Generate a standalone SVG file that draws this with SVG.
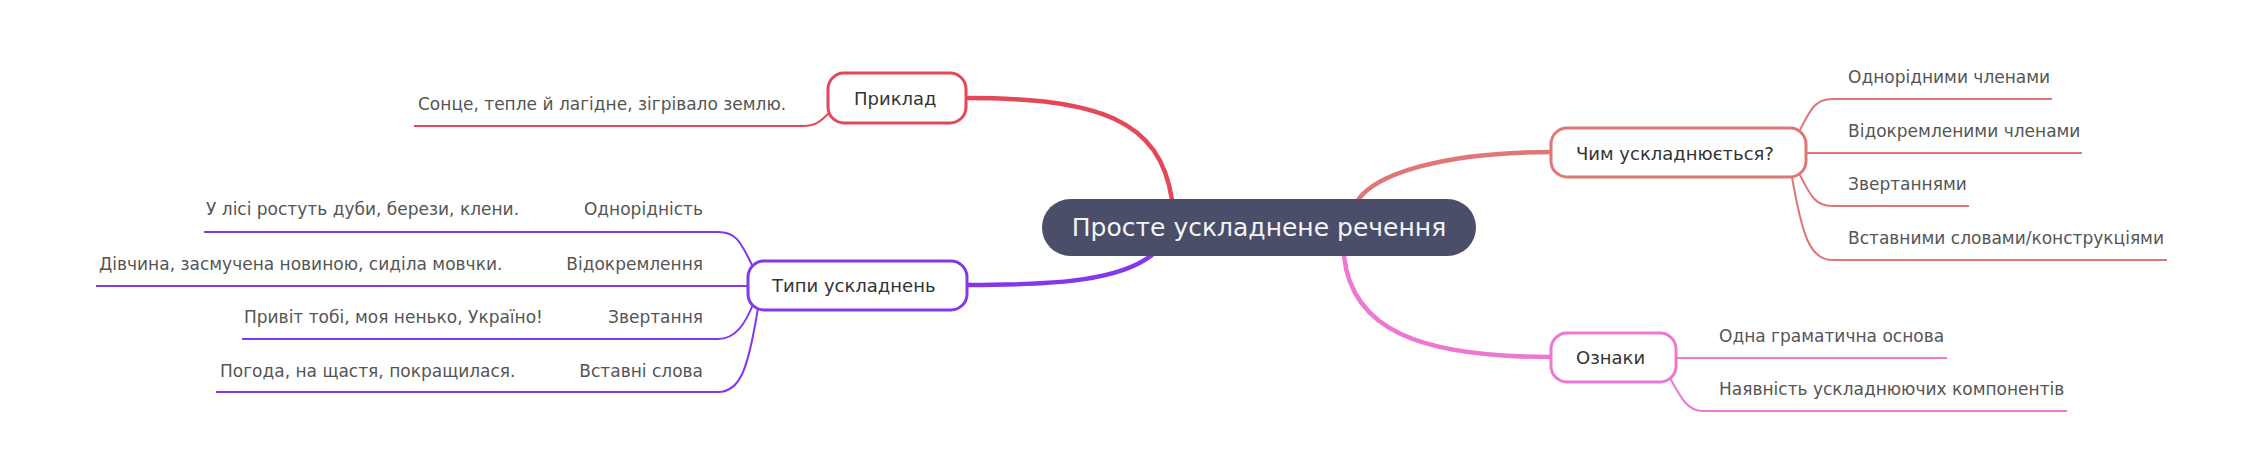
<svg xmlns="http://www.w3.org/2000/svg" width="2262" height="456" viewBox="0 0 2262 456">
<style>
text{font-family:"DejaVu Sans","Noto Sans",sans-serif}
.root{fill:#f4f4f8;font-size:25px}
.nt{fill:#333;font-size:18px}
.lt{fill:#555;font-size:17px}
.r{stroke:#e4475a}
.p{stroke:#8338ec}
.s{stroke:#e07676}
.k{stroke:#ec78d1}
.main{fill:none;stroke-width:4.5;stroke-linecap:round}
.sub{fill:none;stroke-width:2}
.box{fill:#fff;stroke-width:3}
</style>
<rect width="2262" height="456" fill="#fff"/>
<g id="connectors">
<path class="main r" d="M1172,200 C1160,120 1100,98 966,98"/>
<path class="main p" d="M1152,255 C1120,280 1060,285 967,285"/>
<path class="main s" d="M1358,200 C1375,175 1440,152 1551,152"/>
<path class="main k" d="M1344,256 C1352,330 1420,357 1551,357"/>
<path class="sub r" d="M829,113 C820,122 815,126 803,126"/>
<path class="sub p" d="M752,265 C740,240 735,232 718,232"/>
<path class="sub p" d="M747,286 L718,286"/>
<path class="sub p" d="M754,302 C745,325 735,339 718,339"/>
<path class="sub p" d="M758,308 C748,370 740,392 718,392"/>
<path class="sub s" d="M1799,132 C1810,110 1815,99 1832,99"/>
<path class="sub s" d="M1806,153 L1832,153"/>
<path class="sub s" d="M1799,173 C1810,195 1815,206 1832,206"/>
<path class="sub s" d="M1792,177 C1802,235 1810,260 1832,260"/>
<path class="sub k" d="M1676,358 L1703,358"/>
<path class="sub k" d="M1670,378 C1682,400 1688,411 1703,411"/>
</g>
<g id="root">
<rect x="1042" y="199" width="434" height="57" rx="28.5" fill="#4a4e69"/>
<text class="root" x="1259" y="236" text-anchor="middle">Просте ускладнене речення</text>
</g>
<g id="pryklad">
<rect class="box r" x="828" y="73" width="138" height="50" rx="16"/>
<text class="nt" x="854" y="105">Приклад</text>
</g>
<g id="pryklad-1">
<path class="sub r" d="M803,126 L414,126"/>
<text class="lt" x="418" y="110">Сонце, тепле й лагідне, зігрівало землю.</text>
</g>
<g id="typy">
<rect class="box p" x="748" y="261" width="219" height="49" rx="16"/>
<text class="nt" x="772" y="292">Типи ускладнень</text>
</g>
<g id="typy-1">
<path class="sub p" d="M718,232 L560,232"/>
<text class="lt" x="703" y="215" text-anchor="end">Однорідність</text>
</g>
<g id="typy-1-1">
<path class="sub p" d="M560,232 L204,232"/>
<text class="lt" x="206" y="215">У лісі ростуть дуби, берези, клени.</text>
</g>
<g id="typy-2">
<path class="sub p" d="M718,286 L550,286"/>
<text class="lt" x="703" y="270" text-anchor="end">Відокремлення</text>
</g>
<g id="typy-2-1">
<path class="sub p" d="M550,286 L96,286"/>
<text class="lt" x="99" y="270">Дівчина, засмучена новиною, сиділа мовчки.</text>
</g>
<g id="typy-3">
<path class="sub p" d="M718,339 L580,339"/>
<text class="lt" x="703" y="323" text-anchor="end">Звертання</text>
</g>
<g id="typy-3-1">
<path class="sub p" d="M580,339 L242,339"/>
<text class="lt" x="244" y="323">Привіт тобі, моя ненько, Україно!</text>
</g>
<g id="typy-4">
<path class="sub p" d="M718,392 L560,392"/>
<text class="lt" x="703" y="377" text-anchor="end">Вставні слова</text>
</g>
<g id="typy-4-1">
<path class="sub p" d="M560,392 L216,392"/>
<text class="lt" x="220" y="377">Погода, на щастя, покращилася.</text>
</g>
<g id="chym">
<rect class="box s" x="1551" y="128" width="255" height="49" rx="16"/>
<text class="nt" x="1576" y="160">Чим ускладнюється?</text>
</g>
<g id="chym-1">
<path class="sub s" d="M1832,99 L2052,99"/>
<text class="lt" x="1848" y="83">Однорідними членами</text>
</g>
<g id="chym-2">
<path class="sub s" d="M1832,153 L2082,153"/>
<text class="lt" x="1848" y="137">Відокремленими членами</text>
</g>
<g id="chym-3">
<path class="sub s" d="M1832,206 L1969,206"/>
<text class="lt" x="1848" y="190">Звертаннями</text>
</g>
<g id="chym-4">
<path class="sub s" d="M1832,260 L2167,260"/>
<text class="lt" x="1848" y="244">Вставними словами/конструкціями</text>
</g>
<g id="oznaky">
<rect class="box k" x="1551" y="333" width="125" height="49" rx="16"/>
<text class="nt" x="1576" y="364">Ознаки</text>
</g>
<g id="oznaky-1">
<path class="sub k" d="M1703,358 L1947,358"/>
<text class="lt" x="1719" y="342">Одна граматична основа</text>
</g>
<g id="oznaky-2">
<path class="sub k" d="M1703,411 L2067,411"/>
<text class="lt" x="1719" y="395">Наявність ускладнюючих компонентів</text>
</g>
</svg>
